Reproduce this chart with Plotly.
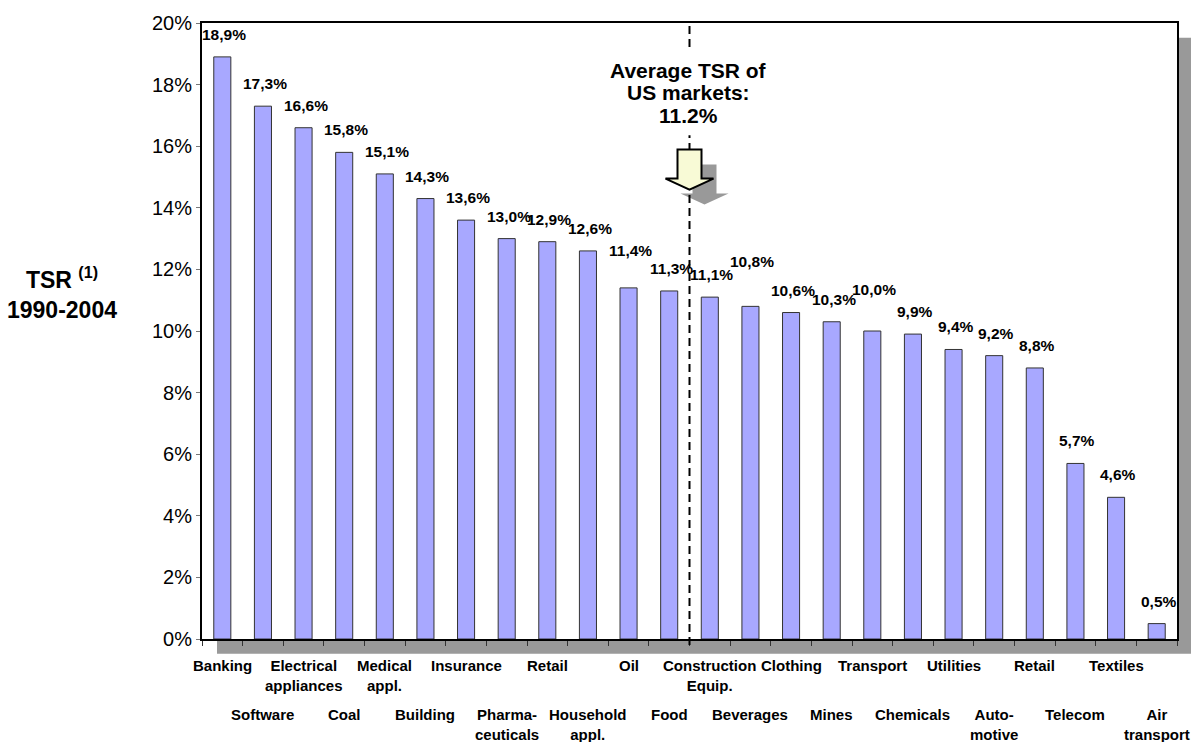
import plotly.graph_objects as go

# Sectors and total shareholder return, 1990-2004 (%)
sectors = [
    "Banking", "Software", "Electrical<br>appliances", "Coal", "Medical<br>appl.",
    "Building", "Insurance", "Pharma-<br>ceuticals", "Retail", "Household<br>appl.",
    "Oil", "Food", "Construction<br>Equip.", "Beverages", "Clothing", "Mines",
    "Transport", "Chemicals", "Utilities", "Auto-<br>motive", "Retail", "Telecom",
    "Textiles", "Air<br>transport",
]
tsr = [18.9, 17.3, 16.6, 15.8, 15.1, 14.3, 13.6, 13.0, 12.9, 12.6, 11.4, 11.3,
       11.1, 10.8, 10.6, 10.3, 10.0, 9.9, 9.4, 9.2, 8.8, 5.7, 4.6, 0.5]
us_average = 11.2
y_ticks = [0, 2, 4, 6, 8, 10, 12, 14, 16, 18, 20]

FONT = "Liberation Sans, Arial, Helvetica, sans-serif"
W, H = 1191, 742
ML, MR, MT, MB = 202, 14, 14, 103
PW, PH = W - ML - MR, H - MT - MB
SHADOW = 15  # px offset of drop shadows

idx = list(range(len(sectors)))
# boundary between the sectors above and below the US average
avg_pos = max(i for i, v in enumerate(tsr) if v >= us_average) + 0.5

fig = go.Figure()
fig.add_trace(go.Bar(
    x=idx, y=tsr, width=0.42,
    marker=dict(color="#A8A8FF", line=dict(color="#333333", width=1)),
    hoverinfo="skip",
))

annotations = []
# value labels above bars (a few are lifted to avoid crowding)
lift = {10: 15, 13: 22, 16: 19}
for i, v in enumerate(tsr):
    annotations.append(dict(
        x=i, y=v, xref="x", yref="y", text=f"<b>{v:.1f}%</b>".replace(".", ","),
        showarrow=False, yanchor="bottom", xanchor="center",
        xshift=2, yshift=12 + lift.get(i, 0),
        font=dict(family=FONT, size=15.5, color="black"),
    ))

# sector labels in two alternating rows
for i, name in enumerate(sectors):
    annotations.append(dict(
        x=i, y=0, xref="x", yref="paper", text=f"<b>{name}</b>",
        showarrow=False, yanchor="top", xanchor="center",
        yshift=-16 if i % 2 == 0 else -65,
        font=dict(family=FONT, size=15, color="black"),
    ))

# y axis title
annotations.append(dict(
    x=0, y=(H - MB - 288) / PH, xref="paper", yref="paper",
    text="<b>TSR <sup>(1)</sup><br>1990-2004</b>", showarrow=False,
    xanchor="center", yanchor="middle", xshift=-140,
    font=dict(family=FONT, size=23, color="black"),
))

# average callout, one line at a time
for k, line in enumerate(["Average TSR of", "US markets:", f"{us_average:.1f}%"]):
    annotations.append(dict(
        x=avg_pos, y=(H - MB - (62 + 23 * k)) / PH, xref="x", yref="paper",
        text=f"<b>{line}</b>", showarrow=False, xanchor="center", yanchor="middle",
        xshift=-1,
        font=dict(family=FONT, size=21, color="black"),
    ))

arrow_path = "M -12,40 L 12,40 L 12,11 L 24,11 L 0,0 L -24,11 L -12,11 Z"
tip_y = (H - MB - 183) / PH

shapes = [
    # plot-area drop shadow
    dict(type="rect", xref="paper", yref="paper", layer="below",
         x0=SHADOW / PW, x1=1 + 2 * SHADOW / PW,
         y0=-SHADOW / PH, y1=1 - SHADOW / PH,
         fillcolor="#999999", line=dict(width=0)),
    # plot area
    dict(type="rect", xref="paper", yref="paper", layer="below",
         x0=0, x1=1, y0=0, y1=1, fillcolor="white", line=dict(width=0)),
    # arrow shadow
    dict(type="path", xref="x", yref="paper", xsizemode="pixel", ysizemode="pixel",
         xanchor=avg_pos, yanchor=tip_y,
         path="M 3,25 L 27,25 L 27,-4 L 39,-4 L 15,-15 L -9,-4 L 3,-4 Z",
         fillcolor="#999999", line=dict(width=0), layer="above"),
    # average line
    dict(type="line", xref="x", yref="paper", x0=avg_pos, x1=avg_pos,
         y0=-6 / PH, y1=1, line=dict(color="black", width=2, dash="8px,5px"),
         layer="above"),
    # clear space behind the callout text
    dict(type="rect", xref="x", yref="paper", xsizemode="pixel",
         xanchor=avg_pos, x0=-70, x1=70,
         y0=(H - MB - 128) / PH, y1=(H - MB - 40) / PH,
         fillcolor="white", line=dict(width=0), layer="above"),
    # arrow
    dict(type="path", xref="x", yref="paper", xsizemode="pixel", ysizemode="pixel",
         xanchor=avg_pos, yanchor=tip_y, path=arrow_path,
         fillcolor="#F8FAD6", line=dict(color="black", width=2), layer="above"),
]

fig.update_layout(
    width=W, height=H,
    margin=dict(l=ML, r=MR, t=MT, b=MB),
    paper_bgcolor="white", plot_bgcolor="rgba(0,0,0,0)",
    showlegend=False,
    font=dict(family=FONT, color="black"),
    annotations=annotations, shapes=shapes,
    xaxis=dict(
        range=[-0.5, len(sectors) - 0.5], showgrid=False, zeroline=False,
        tickvals=[i - 0.5 for i in range(len(sectors) + 1)], showticklabels=False,
        ticks="outside", ticklen=5, tickwidth=1, tickcolor="#333333",
        showline=True, linecolor="black", linewidth=2, mirror=True,
    ),
    yaxis=dict(
        range=[0, 20], showgrid=False, zeroline=False,
        tickvals=y_ticks, ticktext=[f"{t}%" for t in y_ticks],
        ticks="outside", ticklen=4, tickwidth=1, tickcolor="#777777",
        tickfont=dict(family=FONT, size=20, color="black"),
        showline=True, linecolor="black", linewidth=2, mirror=True,
    ),
)

fig.write_html("out.html")
